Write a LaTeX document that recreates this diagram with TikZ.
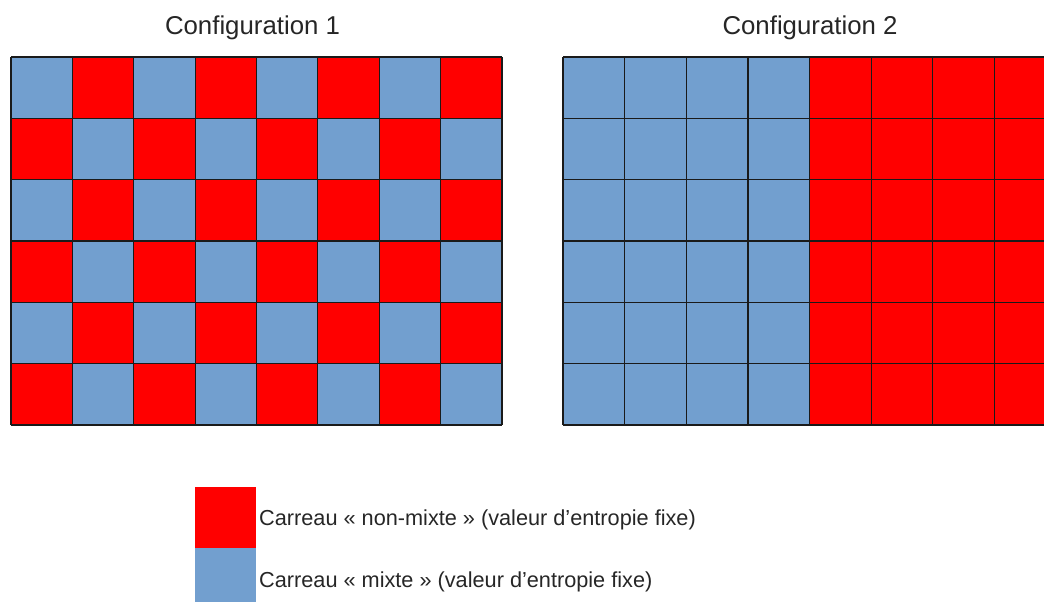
\documentclass[tikz,border=0pt]{standalone}
\usepackage{fontspec}
\setmainfont{Liberation Sans}
\definecolor{cellred}{HTML}{FF0000}
\definecolor{cellblue}{HTML}{729FCF}
\definecolor{gridline}{HTML}{1A1A1A}
\begin{document}
\begin{tikzpicture}[x=1pt,y=-1pt,
  gridstyle/.style={draw=gridline,line width=1.1pt},
  titletext/.style={font=\fontsize{25.8}{30}\selectfont,text=black!85,inner sep=0pt,anchor=base},
  legendtext/.style={font=\fontsize{21.7}{26}\selectfont,text=black!85,inner sep=0pt,anchor=base west}]
\useasboundingbox (0,0) rectangle (1044,602);
\begin{scope}
\clip (0,0) rectangle (1044,602);
% Configuration 1
\foreach \i in {0,...,7}{
  \foreach \j in {0,...,5}{
    \pgfmathtruncatemacro{\myparity}{mod(\i+\j,2)}
    \ifnum\myparity=0
      \fill[cellblue] ({11+61.375*\i},{57+61.333*\j}) rectangle ++(61.375,61.333);
    \else
      \fill[cellred] ({11+61.375*\i},{57+61.333*\j}) rectangle ++(61.375,61.333);
    \fi
  }
}
\foreach \i in {0,...,8}{\draw[gridstyle] ({11+61.375*\i},57) -- ({11+61.375*\i},425);}
\foreach \j in {0,...,6}{\draw[gridstyle] (11,{57+61.333*\j}) -- (502,{57+61.333*\j});}
% Configuration 2
\fill[cellblue] (563,57) rectangle ({563+4*61.65},425);
\fill[cellred] ({563+4*61.65},57) rectangle ({563+8*61.65},425);
\foreach \i in {0,...,8}{\draw[gridstyle] ({563+61.65*\i},57) -- ({563+61.65*\i},425);}
\foreach \j in {0,...,6}{\draw[gridstyle] (563,{57+61.333*\j}) -- ({563+8*61.65},{57+61.333*\j});}
% Legend
\fill[cellred] (195,487) rectangle (256,548);
\fill[cellblue] (195,548) rectangle (256,620);
\end{scope}
\node[titletext] (t1) at (252.5,35) {Configuration 1};
\node[titletext] (t2) at (810,35) {Configuration 2};
\node[legendtext] (l1) at (259,525) {Carreau « non-mixte » (valeur d’entropie fixe)};
\node[legendtext] (l2) at (259,587) {Carreau « mixte » (valeur d’entropie fixe)};
\end{tikzpicture}
\end{document}
